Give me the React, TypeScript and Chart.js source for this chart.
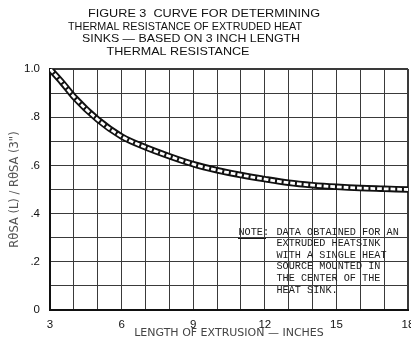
import { useEffect, useRef } from 'react';
import { Chart, registerables } from 'chart.js';

Chart.register(...registerables);

// Curve: R(L)/R(3") vs length of extrusion (inches)
const lengths = [3, 3.5, 4, 5, 6, 7, 8, 9, 10, 11, 12, 13, 14, 15, 16, 17, 18];
const ratio = [1.0, 0.945, 0.885, 0.79, 0.72, 0.675, 0.638, 0.605, 0.58, 0.56, 0.543, 0.528, 0.518, 0.511, 0.506, 0.503, 0.5];

const xTickValues = [3, 6, 9, 12, 15, 18];
const xTickLabels = ['3', '6', '9', '12', '15', '18'];
const yTickValues = [0, 0.2, 0.4, 0.6, 0.8, 1.0];
const yTickLabels = ['0', '.2', '.4', '.6', '.8', '1.0'];

const titleLines = [
  'FIGURE 3  CURVE FOR DETERMINING',
  'THERMAL RESISTANCE OF EXTRUDED HEAT',
  'SINKS — BASED ON 3 INCH LENGTH',
  'THERMAL RESISTANCE',
];
const xAxisTitle = 'LENGTH OF EXTRUSION — INCHES';
const yAxisTitle = 'RθSA (L) / RθSA (3")';
const noteLabel = 'NOTE:';
const noteLines = [
  'DATA OBTAINED FOR AN',
  'EXTRUDED HEATSINK',
  'WITH A SINGLE HEAT',
  'SOURCE MOUNTED IN',
  'THE CENTER OF THE',
  'HEAT SINK.',
];

const SANS = '"Liberation Sans", Arial, sans-serif';

const textPlugin = {
  id: 'figureText',
  afterDraw(chart: any) {
    const ctx = chart.ctx as CanvasRenderingContext2D;
    ctx.save();
    ctx.fillStyle = '#111';
    ctx.font = `10.8px ${SANS}`;
    ctx.textAlign = 'center';
    ctx.textBaseline = 'middle';
    const centers = [204, 185, 191, 178];
    const widths = [232, 234, 218, 143];
    titleLines.forEach((t, i) => {
      const w = ctx.measureText(t).width;
      const k = widths[i] / w;
      ctx.save();
      ctx.translate(centers[i], 13.8 + i * 12.8);
      ctx.scale(k, 1);
      ctx.fillText(t, 0, 0);
      ctx.restore();
    });

    ctx.font = '10.2px "Liberation Mono", "DejaVu Sans Mono", monospace';
    ctx.textAlign = 'left';
    ctx.fillStyle = '#1a1a1a';
    ctx.fillText(noteLabel, 238.5, 232);
    noteLines.forEach((t, i) => ctx.fillText(t, 276.5, 232 + i * 11.6));
    ctx.strokeStyle = '#1a1a1a';
    ctx.lineWidth = 1;
    ctx.beginPath();
    ctx.moveTo(238, 238.5);
    ctx.lineTo(266, 238.5);
    ctx.stroke();
    ctx.restore();
  },
};

export default function App() {
  const ref = useRef<HTMLCanvasElement>(null);

  useEffect(() => {
    const canvas = ref.current;
    if (!canvas) return;
    const points = lengths.map((x, i) => ({ x, y: ratio[i] }));
    const chart = new Chart(canvas, {
      type: 'line',
      data: {
        datasets: [
          {
            data: points,
            borderColor: '#ffffff',
            borderWidth: 2.8,
            borderDash: [4.7, 2],
            pointRadius: 0,
            cubicInterpolationMode: 'monotone',
            clip: 0,
            order: 0,
          },
          {
            data: points,
            borderColor: '#111111',
            borderWidth: 6.5,
            pointRadius: 0,
            cubicInterpolationMode: 'monotone',
            clip: 0,
            order: 1,
          },
        ],
      } as any,
      options: {
        responsive: false,
        animation: false,
        events: [],
        layout: { padding: { top: 69, right: 3, left: 0, bottom: 0 } },
        plugins: { legend: { display: false }, tooltip: { enabled: false }, title: { display: false } },
        scales: {
          x: {
            type: 'linear',
            min: 3,
            max: 18,
            ticks: {
              stepSize: 1,
              autoSkip: false,
              maxRotation: 0,
              padding: 8,
              color: '#111',
              font: { family: SANS, size: 11.5 },
              callback: (v: any) => {
                const i = xTickValues.indexOf(Number(v));
                return i >= 0 ? xTickLabels[i] : '';
              },
            },
            grid: {
              color: '#3a3a3a',
              drawTicks: false,
              lineWidth: (c: any) => (c.tick && c.tick.value === 18 ? 2 : 1),
            },
            border: { color: '#111', width: 2 },
            title: {
              display: true,
              text: xAxisTitle,
              color: '#444',
              font: { family: '"DejaVu Sans", sans-serif', size: 11 },
              padding: { top: 0, bottom: 5 },
            },
            afterFit: (s: any) => {
              s.height = 35;
              s.paddingLeft = 0;
              s.paddingRight = 0;
            },
          },
          y: {
            type: 'linear',
            min: 0,
            max: 1,
            ticks: {
              stepSize: 0.1,
              autoSkip: false,
              padding: 10,
              color: '#111',
              font: { family: SANS, size: 11.5 },
              callback: (v: any) => {
                const i = yTickValues.findIndex((t) => Math.abs(t - Number(v)) < 1e-6);
                return i >= 0 ? yTickLabels[i] : '';
              },
            },
            grid: {
              color: '#3a3a3a',
              drawTicks: false,
              lineWidth: (c: any) => (c.tick && Math.abs(c.tick.value - 1) < 1e-6 ? 2 : 1),
            },
            border: { color: '#111', width: 2 },
            title: {
              display: true,
              text: yAxisTitle,
              color: '#555',
              font: { family: '"DejaVu Sans", sans-serif', size: 11.5 },
              padding: { top: 8, bottom: 0 },
            },
            afterFit: (s: any) => {
              s.width = 50;
              s.paddingTop = 0;
              s.paddingBottom = 0;
            },
          },
        },
      } as any,
      plugins: [textPlugin],
    });
    return () => chart.destroy();
  }, []);

  return (
    <div style={{ position: 'fixed', left: 0, top: 0, width: 411, height: 345, background: '#fff' }}>
      <canvas ref={ref} width={411} height={345} style={{ display: 'block', width: 411, height: 345 }} />
    </div>
  );
}
